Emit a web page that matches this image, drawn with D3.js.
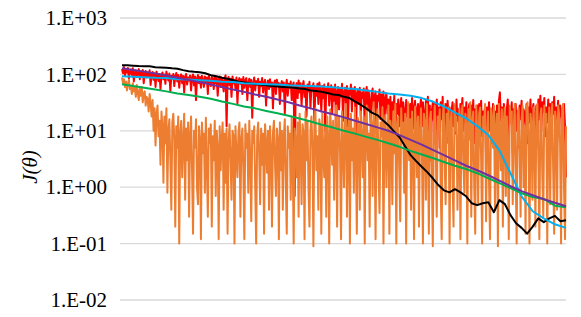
<!DOCTYPE html>
<html>
<head>
<meta charset="utf-8">
<script src="https://cdn.jsdelivr.net/npm/d3@7"></script>
<style>
  body { margin: 0; background: #fff; }
  svg text { font-family: "Liberation Serif", "Times New Roman", serif; }
</style>
</head>
<body>
<svg id="svg1" width="581" height="317"></svg>
<script>
var yTicks = [1e-2, 1e-1, 1e0, 1e1, 1e2, 1e3];
var tickLabels = ["1.E-02", "1.E-01", "1.E+00", "1.E+01", "1.E+02", "1.E+03"];

// noisy series, 451 samples each
var redVals = [
  125, 105, 135, 95, 118, 108, 130, 85, 112, 122, 98, 128, 75, 108, 118, 90, 104, 124, 82, 110, 96, 120, 70, 102, 115, 88, 108, 92, 118, 65,
  98, 110, 80, 104, 60, 112, 92, 76, 102, 55, 96, 108, 82, 100, 68, 112, 92, 78, 104, 50, 95, 84, 102, 62, 92, 106, 75, 98, 58, 88,
  100, 70, 94, 48, 90, 102, 66, 88, 78, 96, 52, 86, 100, 64, 92, 35, 84, 98, 70, 90, 58, 95, 80, 60, 92, 72, 88, 45, 96, 76,
  62, 90, 82, 55, 94, 70, 86, 42, 80, 92, 60, 88, 74, 50, 85, 96, 12, 78, 90, 64, 84, 40, 92, 70, 80, 56, 88, 30, 76, 86,
  68, 82, 45, 90, 58, 78, 86, 35, 72, 84, 60, 80, 17, 70, 88, 52, 76, 66, 84, 40, 74, 62, 86, 48, 70, 80, 28, 66, 78, 55,
  82, 60, 72, 25, 68, 78, 45, 80, 62, 70, 30, 65, 76, 50, 72, 20, 62, 80, 42, 68, 58, 75, 35, 64, 72, 0.7, 60, 70, 38, 78,
  48, 70, 28, 62, 76, 40, 58, 18, 66, 50, 74, 25, 60, 54, 70, 14, 58, 42, 68, 30, 72, 52, 22, 62, 38, 66, 10, 56, 46, 70,
  28, 52, 64, 20, 58, 34, 66, 8, 50, 60, 24, 55, 40, 68, 15, 48, 58, 30, 62, 12, 52, 44, 66, 22, 56, 36, 60, 6, 46, 54,
  30, 58, 18, 48, 38, 56, 10, 44, 60, 24, 52, 32, 14, 46, 56, 22, 40, 50, 9, 42, 34, 54, 16, 44, 28, 50, 12, 38, 46, 20,
  36, 14, 40, 8, 32, 24, 42, 5, 30, 20, 36, 12, 26, 38, 7, 32, 22, 10, 35, 18, 28, 4, 30, 16, 38, 11, 26, 34, 8, 24,
  30, 4, 26, 36, 12, 32, 20, 7, 34, 24, 40, 10, 28, 3, 22, 32, 15, 30, 8, 36, 18, 26, 5, 32, 16, 40, 10, 24, 30, 6,
  34, 18, 26, 2.5, 22, 32, 12, 28, 9, 36, 15, 24, 5, 30, 20, 38, 10, 26, 14, 32, 4, 22, 30, 8, 28, 16, 35, 6, 24, 12,
  28, 5, 30, 20, 34, 8, 22, 14, 28, 3, 26, 18, 32, 10, 24, 6, 30, 16, 22, 4, 28, 12, 34, 48, 15, 26, 6, 30, 18, 10,
  24, 36, 8, 26, 14, 32, 4, 24, 18, 30, 10, 22, 5, 28, 16, 34, 8, 24, 20, 12, 30, 6, 26, 14, 36, 9, 22, 30, 4, 18,
  28, 8, 36, 16, 42, 10, 32, 22, 38, 8, 26, 14, 36, 12, 30, 5, 32, 20, 40, 10, 26, 15, 34, 8, 28, 18, 24, 6, 30, 12,
  1.5
];
var orangeVals = [
  88, 70, 82, 60, 75, 52, 68, 80, 55, 62, 45, 70, 50, 58, 40, 65, 48, 35, 55, 42, 60, 32, 45, 50, 28, 40, 36, 22, 45, 30,
  18, 35, 10, 25, 5.5, 20, 28, 8, 15, 2.5, 22, 12, 1.2, 18, 6, 25, 0.8, 10, 16, 3, 0.4, 14, 20, 7, 0.2, 12, 5, 18, 0.1, 9,
  15, 1.5, 6, 20, 0.6, 11, 3, 14, 0.3, 8, 18, 2, 0.15, 10, 5, 16, 1, 0.5, 12, 7, 0.12, 14, 4, 9, 0.8, 17, 2.5, 0.3, 11, 6,
  13, 0.2, 8, 3, 15, 0.7, 10, 5, 0.12, 12, 2, 7, 14, 0.4, 9, 1.2, 11, 0.15, 6, 13, 3, 0.6, 10, 8, 0.1, 12, 4, 1.5, 9, 14,
  0.3, 7, 11, 2, 0.12, 13, 5, 9, 0.8, 15, 3, 0.25, 10, 6, 12, 1, 0.1, 8, 14, 4, 0.5, 11, 2.5, 9, 0.15, 13, 6, 1.8, 10, 0.4,
  12, 5, 0.2, 9, 15, 3, 0.7, 11, 7, 0.12, 14, 2, 10, 0.4, 8, 16, 1.2, 0.15, 12, 5, 9, 0.6, 18, 3, 0.1, 11, 7, 1.5, 14, 0.3,
  20, 6, 0.5, 13, 9, 0.12, 22, 3, 15, 1, 0.2, 10, 18, 5, 0.09, 14, 25, 2, 8, 0.4, 16, 11, 0.15, 20, 4, 1.5, 12, 0.3, 18, 7,
  0.1, 24, 10, 2.5, 15, 0.6, 8, 28, 0.2, 12, 18, 4, 0.12, 22, 6, 1, 14, 30, 0.3, 9, 16, 0.1, 20, 3, 11, 0.8, 26, 5, 0.15, 17,
  12, 0.4, 22, 7, 1.5, 18, 0.1, 14, 28, 3, 9, 0.2, 20, 12, 0.7, 32, 5, 0.12, 16, 24, 2, 0.35, 14, 8, 26, 0.1, 11, 19, 1, 6,
  28, 0.15, 15, 9, 0.5, 22, 4, 30, 0.1, 12, 18, 2, 0.25, 25, 7, 14, 0.8, 20, 0.1, 10, 32, 3, 16, 0.4, 22, 6, 0.12, 27, 12, 1.5,
  18, 0.2, 9, 25, 4, 0.1, 20, 14, 0.6, 30, 7, 0.15, 16, 22, 2, 0.09, 12, 28, 5, 0.3, 18, 10, 24, 1, 0.12, 15, 30, 3, 0.5, 20,
  8, 26, 0.1, 14, 22, 1.5, 0.2, 30, 10, 18, 0.4, 5, 25, 0.12, 16, 28, 2.5, 0.8, 20, 12, 0.1, 24, 7, 32, 0.3, 15, 22, 1, 0.15, 28,
  10, 0.5, 20, 26, 3, 0.1, 18, 14, 30, 0.25, 8, 22, 1.2, 0.12, 25, 16, 5, 28, 0.4, 12, 20, 0.09, 30, 9, 2, 24, 0.2, 15, 26, 0.7,
  18, 6, 0.12, 28, 14, 22, 0.5, 10, 30, 2, 0.1, 20, 25, 4, 0.3, 16, 28, 1, 12, 0.15, 24, 32, 7, 0.1, 20, 14, 0.6, 26, 9, 0.2,
  22, 30, 3, 0.12, 18, 25, 1.5, 0.3, 28, 12, 20, 0.1, 8, 26, 0.5, 16, 30, 2, 0.15, 22, 14, 0.4, 28, 20, 6, 0.1, 24, 30, 1, 0.12,
  12
];

// 81 samples
var blackVals = [
  146, 145, 143, 141, 140, 139, 134, 133, 131, 128, 126, 119, 114, 111, 109, 105, 97, 93, 87, 84,
  79, 74, 72, 70, 67, 66, 64, 62, 61, 60, 59, 58, 56, 55, 52, 51, 49, 47, 44, 43,
  40, 38, 33, 29, 25, 21, 19, 15.4, 12.6, 9.8, 7.7, 5.3, 3.7, 2.9, 2.3, 1.85, 1.44, 1.09, 0.88, 0.81,
  0.92, 0.81, 0.69, 0.52, 0.48, 0.52, 0.54, 0.36, 0.59, 0.5, 0.32, 0.23, 0.19, 0.15, 0.2, 0.28, 0.24, 0.28, 0.31, 0.25,
  0.26
];

// 41 samples
var blueVals = [
  93, 91, 89, 87, 86, 82, 81, 79, 77, 74, 73, 70, 68, 67, 66, 64, 63, 62, 61, 59,
  57, 55, 52, 49, 46, 44, 42, 38, 33, 27, 21, 16.7, 12.1, 8.4, 4.5, 1.77, 0.69, 0.375, 0.28, 0.22,
  0.19
];
var purpleVals = [
  129, 120, 112, 104, 96, 87, 80, 73, 66, 60, 54, 49, 44, 40, 36, 32, 28, 25, 22, 19.6,
  17.3, 15.1, 13.2, 11.5, 10, 8.4, 6.9, 5.7, 4.6, 3.7, 3.0, 2.4, 2.0, 1.63, 1.31, 1.04, 0.85, 0.72, 0.61, 0.53,
  0.46
];
var greenVals = [
  67, 62, 58, 54, 50, 46, 43, 40, 37, 33, 30, 27, 25, 22.5, 20.4, 18.5, 16.5, 14.6, 12.8, 11.4,
  10, 8.9, 7.8, 6.9, 6.0, 5.2, 4.4, 3.8, 3.3, 2.8, 2.4, 2.1, 1.77, 1.44, 1.18, 0.96, 0.78, 0.67, 0.62, 0.47,
  0.44
];

var series = [
  {vals: redVals, color: "#ff0000", w: 2},
  {vals: orangeVals, color: "#ed7d31", w: 2},
  {vals: blackVals, color: "#000000", w: 2},
  {vals: blueVals, color: "#00b0f0", w: 2},
  {vals: greenVals, color: "#00b050", w: 2},
  {vals: purpleVals, color: "#7030a0", w: 2}
];

var plotL = 122, plotR = 566, plotT = 18, plotB = 300;

window.onload = function(){
  var svg1 = d3.select('#svg1');
  var y = d3.scaleLog().domain([1e-2, 1e3]).range([plotB, plotT]);
  var x = d3.scaleLinear().range([plotL, plotR]);

  // grid
  svg1.append('g').selectAll('line')
    .data(yTicks)
    .enter()
    .append('line')
    .attr('x1', plotL - 2).attr('x2', plotR)
    .attr('y1', function(d){ return y(d); })
    .attr('y2', function(d){ return y(d); })
    .attr('stroke', '#d9d9d9')
    .attr('stroke-width', 1.3);

  var yAxis = d3.axisLeft(y)
    .tickValues(yTicks)
    .tickSize(0)
    .tickPadding(13)
    .tickFormat(function(d, i){ return tickLabels[i]; });
  var ag = svg1.append('g').attr('transform', 'translate(' + (plotL - 2) + ',0)').call(yAxis);
  ag.select('.domain').remove();
  ag.attr('font-family', null).attr('font-size', null);
  ag.selectAll('text')
    .attr('font-family', 'Liberation Serif')
    .style('font-size', '21px')
    .attr('fill', '#000');

  svg1.append('text')
    .attr('transform', 'translate(37,' + ((plotT + plotB) / 2 + 8) + ') rotate(-90)')
    .attr('text-anchor', 'middle')
    .attr('font-family', 'Liberation Serif')
    .style('font-size', '21px')
    .style('font-style', 'italic')
    .text('J(θ)');

  series.forEach(function(s){
    var xs = x.copy().domain([0, s.vals.length - 1]);
    var line = d3.line()
      .x(function(d, i){ return xs(i); })
      .y(function(d){ return y(d); });
    svg1.append('path')
      .datum(s.vals)
      .attr('d', line)
      .attr('fill', 'none')
      .attr('stroke', s.color)
      .attr('stroke-width', s.w)
      .attr('stroke-linejoin', 'round');
  });
};
</script>
</body>
</html>
